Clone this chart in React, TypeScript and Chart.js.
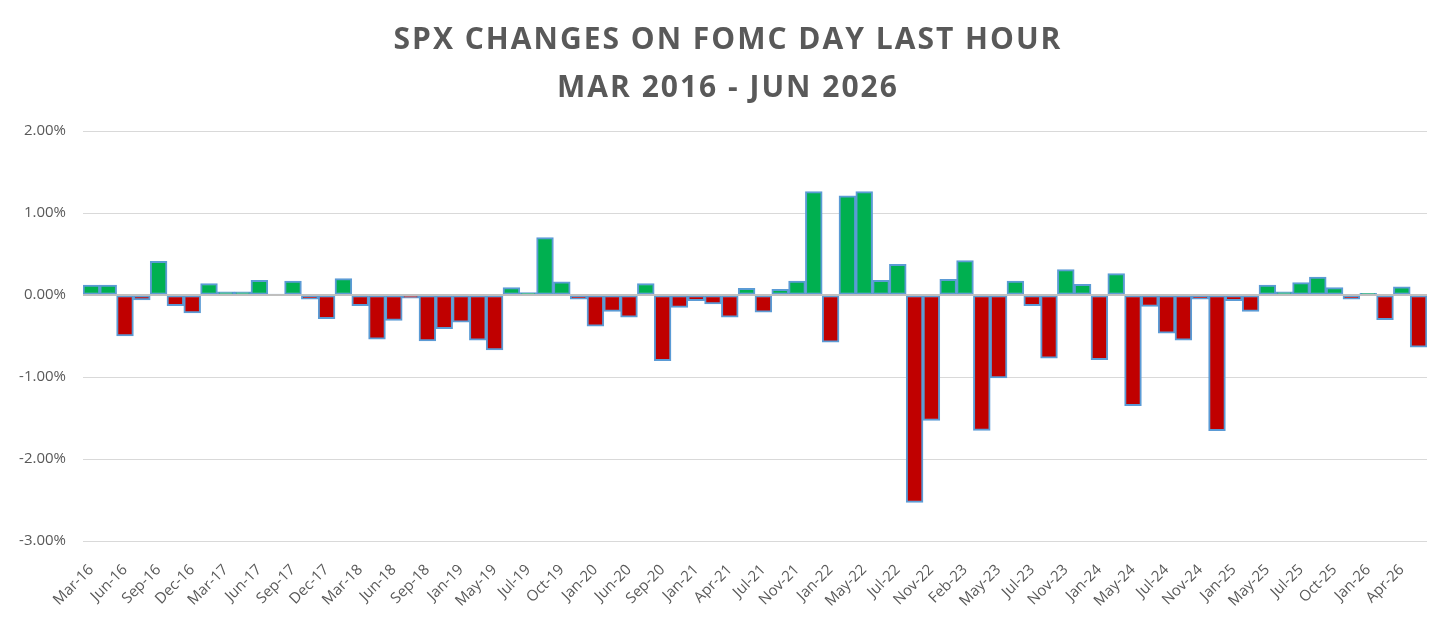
import React, { useEffect, useRef } from 'react';
import { Chart, registerables } from 'chart.js';

Chart.register(...registerables);

// one entry per FOMC meeting, Mar 2016 - Jun 2026
const meetings = [
  'Mar-16', 'Apr-16', 'Jun-16', 'Jul-16', 'Sep-16', 'Nov-16', 'Dec-16',
  'Feb-17', 'Mar-17', 'May-17', 'Jun-17', 'Jul-17', 'Sep-17', 'Nov-17', 'Dec-17',
  'Jan-18', 'Mar-18', 'May-18', 'Jun-18', 'Aug-18', 'Sep-18', 'Dec-18',
  'Jan-19', 'Mar-19', 'May-19', 'Jun-19', 'Jul-19', 'Sep-19', 'Oct-19', 'Dec-19',
  'Jan-20', 'Apr-20', 'Jun-20', 'Jul-20', 'Sep-20', 'Dec-20',
  'Jan-21', 'Mar-21', 'Apr-21', 'Jun-21', 'Jul-21', 'Sep-21', 'Nov-21', 'Dec-21',
  'Jan-22', 'Mar-22', 'May-22', 'Jun-22', 'Jul-22', 'Sep-22', 'Nov-22', 'Dec-22',
  'Feb-23', 'Mar-23', 'May-23', 'Jun-23', 'Jul-23', 'Sep-23', 'Nov-23', 'Dec-23',
  'Jan-24', 'Mar-24', 'May-24', 'Jun-24', 'Jul-24', 'Sep-24', 'Nov-24', 'Dec-24',
  'Jan-25', 'Mar-25', 'May-25', 'Jun-25', 'Jul-25', 'Sep-25', 'Oct-25', 'Dec-25',
  'Jan-26', 'Mar-26', 'Apr-26', 'Jun-26',
];

// last-hour change, percent
const changes = [
  0.12, 0.12, -0.50, -0.06, 0.41, -0.13, -0.22,
  0.14, 0.04, 0.04, 0.18, 0.01, 0.17, -0.05, -0.29,
  0.20, -0.13, -0.54, -0.31, -0.04, -0.56, -0.41,
  -0.33, -0.55, -0.67, 0.09, 0.03, 0.70, 0.16, -0.05,
  -0.38, -0.20, -0.27, 0.14, -0.80, -0.15,
  -0.07, -0.11, -0.27, 0.08, -0.21, 0.07, 0.17, 1.26,
  -0.575, 1.21, 1.26, 0.18, 0.375, -2.53, -1.53, 0.19,
  0.42, -1.65, -1.01, 0.17, -0.13, -0.77, 0.31, 0.13,
  -0.79, 0.26, -1.35, -0.14, -0.465, -0.55, -0.05, -1.655,
  -0.07, -0.20, 0.12, 0.04, 0.15, 0.22, 0.09, -0.05,
  0.02, -0.30, 0.10, -0.635,
];

const yTicks = [2, 1, 0, -1, -2, -3];

const titleLines = ['SPX CHANGES ON FOMC DAY LAST HOUR', 'MAR 2016 - JUN 2026'];

const GREEN = '#00B050';
const RED = '#C00000';
const EDGE = '#5B9BD5';
const TEXT = '#595959';
const FONT = "'Open Sans', sans-serif";

// title drawn by hand so the letter spacing can be widened (Calibri-like width)
const titlePlugin = {
  id: 'wideTitle',
  afterDraw: (chart: Chart) => {
    const ctx = chart.ctx as any;
    ctx.save();
    ctx.fillStyle = TEXT;
    ctx.font = `bold 30px ${FONT}`;
    ctx.textAlign = 'center';
    ctx.textBaseline = 'alphabetic';
    ctx.letterSpacing = '2px';
    ctx.fillText(titleLines[0], 728, 49);
    ctx.fillText(titleLines[1], 728, 97);
    ctx.restore();
  },
};

// Excel-style horizontal axis line, drawn over the bars
const zeroLinePlugin = {
  id: 'zeroLine',
  afterDatasetsDraw: (chart: Chart) => {
    const { ctx, chartArea } = chart;
    const y = chart.scales.y.getPixelForValue(0);
    ctx.save();
    ctx.strokeStyle = '#BFBFBF';
    ctx.lineWidth = 2;
    ctx.beginPath();
    ctx.moveTo(chartArea.left, y);
    ctx.lineTo(chartArea.right, y);
    ctx.stroke();
    ctx.restore();
  },
};

const App: React.FC = () => {
  const canvasRef = useRef<HTMLCanvasElement>(null);

  useEffect(() => {
    if (!canvasRef.current) return;

    const chart = new Chart(canvasRef.current, {
      type: 'bar',
      data: {
        labels: meetings,
        datasets: [
          {
            data: changes,
            backgroundColor: changes.map(v => (v >= 0 ? GREEN : RED)),
            borderColor: EDGE,
            borderWidth: 2,
            borderSkipped: false,
            barPercentage: 1,
            categoryPercentage: 1,
          },
        ],
      },
      options: {
        responsive: true,
        maintainAspectRatio: false,
        animation: false,
        layout: { padding: { left: 0, right: 29, top: 131, bottom: 0 } },
        plugins: {
          legend: { display: false },
          tooltip: { enabled: false },
          title: { display: false },
        },
        scales: {
          x: {
            grid: { display: false },
            border: { display: false },
            ticks: {
              autoSkip: false,
              minRotation: 45,
              maxRotation: 45,
              padding: 12,
              color: TEXT,
              font: { family: FONT, size: 15 },
              callback: (_v: any, i: number) => (i % 2 === 0 ? meetings[i] : ''),
            },
            afterFit: (scale: any) => {
              scale.height = 84;
            },
          },
          y: {
            min: -3,
            max: 2,
            afterBuildTicks: (scale: any) => {
              scale.ticks = yTicks.map(v => ({ value: v }));
            },
            grid: { color: '#D9D9D9', lineWidth: 1, drawTicks: false },
            border: { display: false },
            ticks: {
              padding: 17,
              color: TEXT,
              font: { family: FONT, size: 15 },
              callback: (v: any) => Number(v).toFixed(2) + '%',
            },
            afterFit: (scale: any) => {
              scale.width = 83;
            },
          },
        },
      },
      plugins: [zeroLinePlugin, titlePlugin],
    });

    return () => {
      chart.destroy();
    };
  }, []);

  return (
    <div style={{ position: 'fixed', left: 0, top: 0, width: 1456, height: 625, background: '#fff' }}>
      <canvas ref={canvasRef}></canvas>
    </div>
  );
};

export default App;
